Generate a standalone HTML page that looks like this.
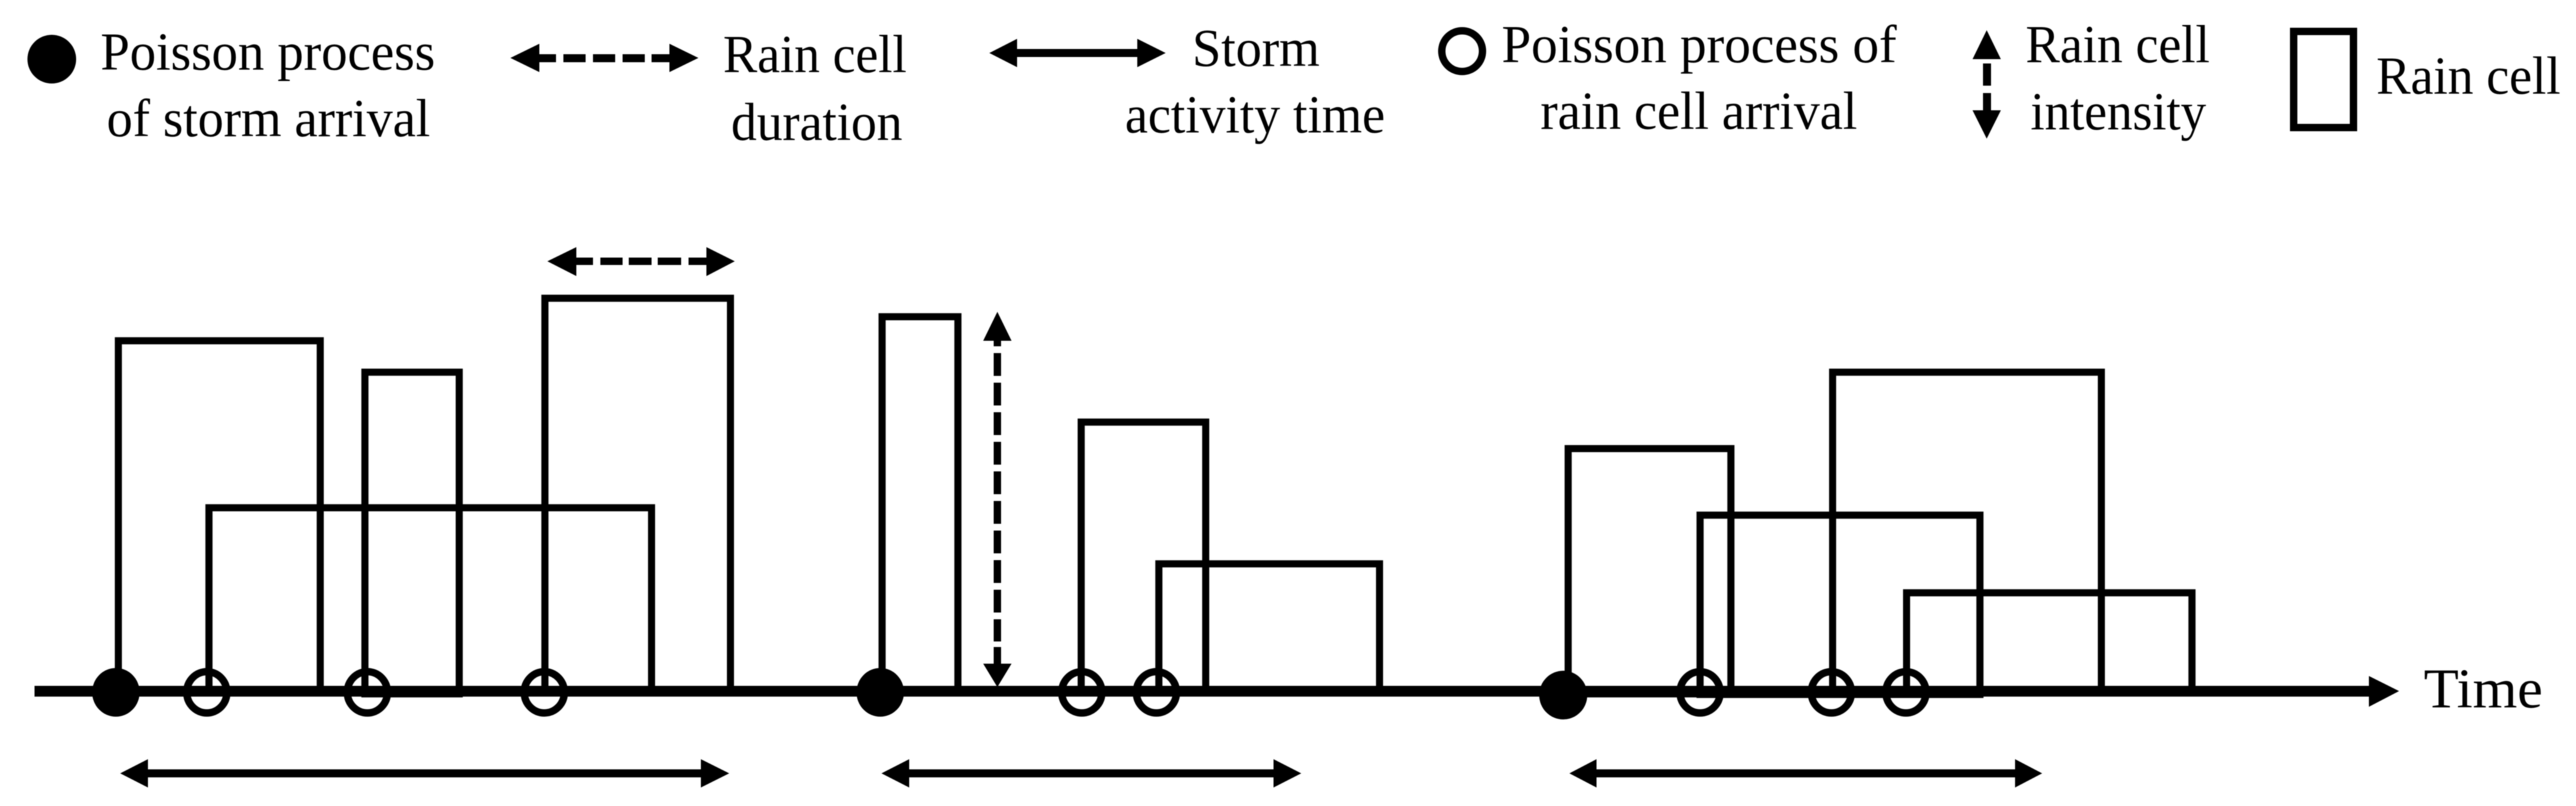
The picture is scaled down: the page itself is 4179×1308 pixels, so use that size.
<!DOCTYPE html>
<html>
<head>
<meta charset="utf-8">
<style>
html,body{margin:0;padding:0;background:#fff;}
svg{display:block;filter:blur(0.7px);}
text{font-family:"Liberation Serif",serif;font-size:87px;fill:#000;}
</style>
</head>
<body>
<svg width="4179" height="1308" viewBox="0 0 4179 1308" xmlns="http://www.w3.org/2000/svg">
<rect width="4179" height="1308" fill="#fff"/>

<!-- Legend -->
<ellipse cx="84" cy="96" rx="39.5" ry="39.5" fill="#000"/>
<text x="163" y="113" textLength="543" lengthAdjust="spacingAndGlyphs">Poisson process</text>
<text x="173" y="221" textLength="525" lengthAdjust="spacingAndGlyphs">of storm arrival</text>

<polygon points="828,94 875,71 875,117" fill="#000"/>
<polygon points="1133,94 1086,71 1086,117" fill="#000"/>
<g fill="#000">
<rect x="875" y="88" width="27" height="13"/>
<rect x="914" y="88" width="36" height="13"/>
<rect x="962" y="88" width="36" height="13"/>
<rect x="1010" y="88" width="36" height="13"/>
<rect x="1057" y="88" width="29" height="13"/>
</g>
<text x="1173" y="117" textLength="298" lengthAdjust="spacingAndGlyphs">Rain cell</text>
<text x="1186" y="227" textLength="278" lengthAdjust="spacingAndGlyphs">duration</text>

<polygon points="1605,86 1650,63 1650,109" fill="#000"/>
<polygon points="1891,86 1845,63 1845,109" fill="#000"/>
<rect x="1650" y="79.5" width="195" height="13" fill="#000"/>
<text x="1934" y="107" textLength="207" lengthAdjust="spacingAndGlyphs">Storm</text>
<text x="1825" y="215" textLength="422" lengthAdjust="spacingAndGlyphs">activity time</text>

<ellipse cx="2372" cy="83" rx="33" ry="33" fill="none" stroke="#000" stroke-width="12"/>
<text x="2436" y="101" textLength="641" lengthAdjust="spacingAndGlyphs">Poisson process of</text>
<text x="2499" y="209" textLength="514" lengthAdjust="spacingAndGlyphs">rain cell arrival</text>

<polygon points="3223,49 3200,96 3246,96" fill="#000"/>
<polygon points="3223,225 3200,179 3246,179" fill="#000"/>
<rect x="3217" y="103" width="13" height="36" fill="#000"/>
<rect x="3217" y="151" width="13" height="28" fill="#000"/>
<text x="3286" y="101" textLength="299" lengthAdjust="spacingAndGlyphs">Rain cell</text>
<text x="3294" y="210" textLength="285" lengthAdjust="spacingAndGlyphs">intensity</text>

<rect x="3721" y="51" width="97" height="156" fill="none" stroke="#000" stroke-width="12"/>
<text x="3855" y="152" textLength="299" lengthAdjust="spacingAndGlyphs">Rain cell</text>

<!-- Time axis -->
<rect x="56" y="1113" width="3790" height="17.5" fill="#000"/>
<polygon points="3892,1121.5 3843,1097 3843,1147" fill="#000"/>
<text x="3932" y="1148" style="font-size:91px" textLength="193" lengthAdjust="spacingAndGlyphs">Time</text>

<!-- Rain cells -->
<g fill="none" stroke="#000" stroke-width="11.5" stroke-linejoin="miter">
<rect x="192" y="553" width="327.5" height="567"/>
<rect x="592" y="604" width="153" height="522"/>
<rect x="884" y="484" width="301" height="636"/>
<rect x="339" y="824" width="718" height="296"/>

<rect x="1431" y="514" width="123" height="606"/>
<rect x="1754" y="685" width="202" height="435"/>
<rect x="1880" y="915" width="358" height="205"/>

<rect x="2544" y="728" width="264" height="398"/>
<rect x="2973" y="604" width="436" height="520"/>
<rect x="2758" y="836" width="454" height="291"/>
<rect x="3093" y="962" width="463" height="158"/>
</g>

<!-- Rain cell arrivals -->
<g fill="none" stroke="#000" stroke-width="12">
<ellipse cx="335.5" cy="1123.5" rx="32.5" ry="33.5"/>
<ellipse cx="596" cy="1123.5" rx="32.5" ry="33.5"/>
<ellipse cx="883" cy="1123.5" rx="32.5" ry="33.5"/>
<ellipse cx="1755" cy="1123.5" rx="32.5" ry="33.5"/>
<ellipse cx="1876" cy="1123.5" rx="32.5" ry="33.5"/>
<ellipse cx="2758" cy="1123.5" rx="32.5" ry="33.5"/>
<ellipse cx="2971" cy="1123.5" rx="32.5" ry="33.5"/>
<ellipse cx="3092" cy="1123.5" rx="32.5" ry="33.5"/>
</g>

<!-- Storm arrivals -->
<g fill="#000">
<ellipse cx="188" cy="1123.5" rx="38.5" ry="39.5"/>
<ellipse cx="1428" cy="1123.5" rx="38.5" ry="39.5"/>
<ellipse cx="2536" cy="1128" rx="39" ry="39.5"/>
</g>

<!-- Duration arrow -->
<polygon points="888,424 935,401 935,448" fill="#000"/>
<polygon points="1192,424 1146,401 1146,448" fill="#000"/>
<g fill="#000">
<rect x="935" y="418" width="27" height="12"/>
<rect x="974" y="418" width="36" height="12"/>
<rect x="1020" y="418" width="37" height="12"/>
<rect x="1067" y="418" width="38" height="12"/>
<rect x="1117" y="418" width="29" height="12"/>
</g>

<!-- Intensity arrow -->
<polygon points="1618,506 1595,553 1641,553" fill="#000"/>
<polygon points="1618,1115 1595,1077 1641,1077" fill="#000"/>
<g fill="#000">
<rect x="1612" y="550" width="12" height="12"/>
<rect x="1612" y="573" width="12" height="37"/>
<rect x="1612" y="621" width="12" height="37"/>
<rect x="1612" y="669" width="12" height="37"/>
<rect x="1612" y="717" width="12" height="37"/>
<rect x="1612" y="765" width="12" height="37"/>
<rect x="1612" y="813" width="12" height="37"/>
<rect x="1612" y="861" width="12" height="37"/>
<rect x="1612" y="909" width="12" height="37"/>
<rect x="1612" y="957" width="12" height="37"/>
<rect x="1612" y="1005" width="12" height="36"/>
<rect x="1612" y="1050" width="12" height="28"/>
</g>

<!-- Storm activity arrows -->
<g fill="#000">
<polygon points="195,1255 240,1232 240,1278"/>
<polygon points="1183,1255 1137,1232 1137,1278"/>
<rect x="240" y="1248.5" width="897" height="13"/>

<polygon points="1430,1255 1475,1232 1475,1278"/>
<polygon points="2111,1255 2066,1232 2066,1278"/>
<rect x="1475" y="1248.5" width="591" height="13"/>

<polygon points="2546,1255 2590,1232 2590,1278"/>
<polygon points="3313,1255 3269,1232 3269,1278"/>
<rect x="2590" y="1248.5" width="679" height="13"/>
</g>
</svg>
</body>
</html>
